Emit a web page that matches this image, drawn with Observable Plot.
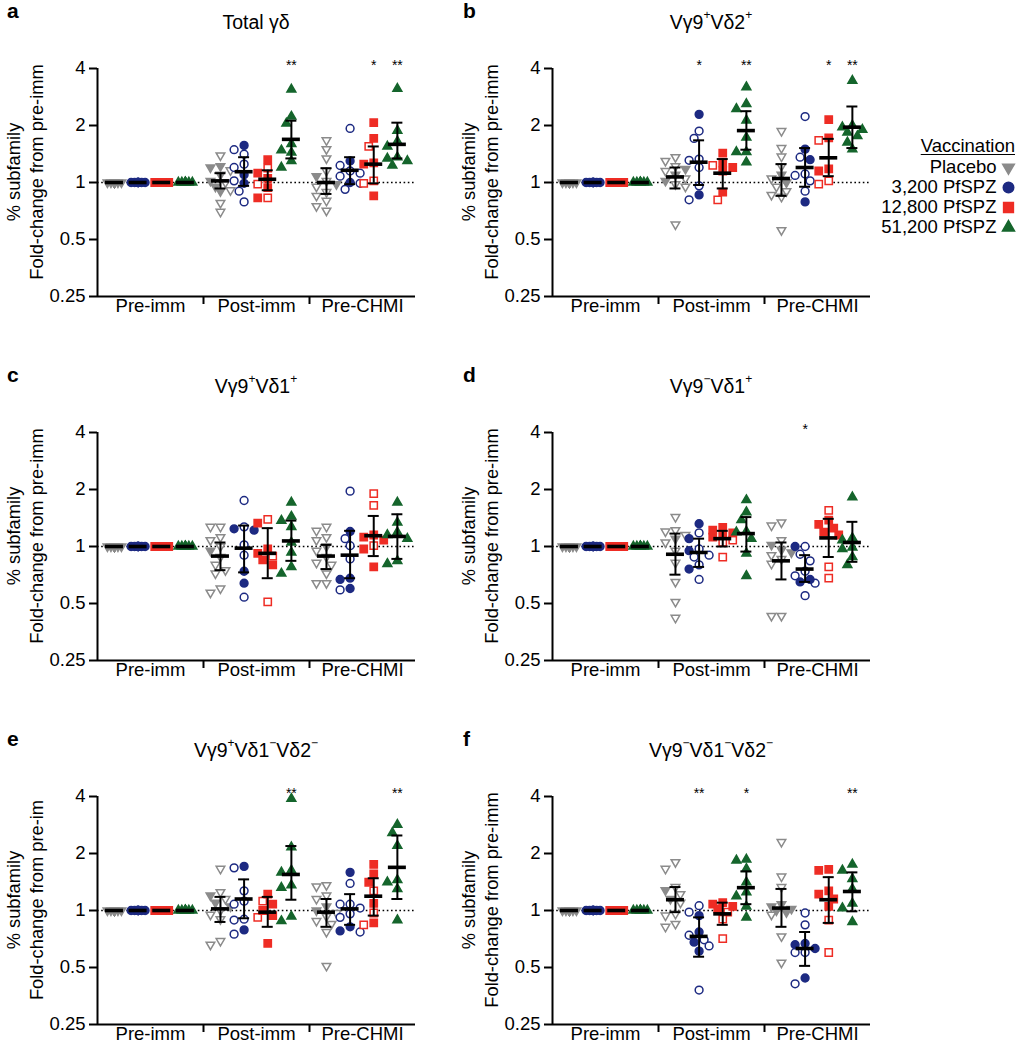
<!DOCTYPE html>
<html>
<head>
<meta charset="utf-8">
<script src="https://cdn.jsdelivr.net/npm/d3@7"></script>
<script src="https://cdn.jsdelivr.net/npm/@observablehq/plot@0.6"></script>
<style>
  body { margin:0; width:1021px; height:1050px; position:relative; background:white; overflow:hidden;
         font-family:"Liberation Sans", Arial, Helvetica, sans-serif; color:black; }
  .abs { position:absolute; }
  .title { font-size:19.5px; transform:translate(-50%,-50%); white-space:nowrap; }
  .title sup { font-size:0.62em; position:relative; top:-0.2em; line-height:0; vertical-align:super; }
  .letter { font-size:21px; font-weight:bold; transform:translate(0,-50%); }
  .ylab { font-size:18.3px; transform:translate(-50%,-50%) rotate(-90deg); white-space:nowrap; }
  .leghead { font-size:18.5px; text-decoration:underline; text-underline-offset:2px; transform:translate(-100%,-50%); white-space:nowrap; }
</style>
</head>
<body>
<script>
// ---------------- categories ----------------
const groups = ["Pre-imm", "Post-imm", "Pre-CHMI"];
const vaccinations = ["Placebo", "3,200 PfSPZ", "12,800 PfSPZ", "51,200 PfSPZ"];
const vaccColors = ["#8b8b8b", "#1d2a82", "#ee2c24", "#15652c"];
const yTicks = [0.25, 0.5, 1, 2, 4];
const panelLetters = ["a", "b", "c", "d", "e", "f"];
const panelTitles = [
  "Total γδ",
  "Vγ9<sup>+</sup>Vδ2<sup>+</sup>",
  "Vγ9<sup>+</sup>Vδ1<sup>+</sup>",
  "Vγ9<sup>−</sup>Vδ1<sup>+</sup>",
  "Vγ9<sup>+</sup>Vδ1<sup>−</sup>Vδ2<sup>−</sup>",
  "Vγ9<sup>−</sup>Vδ1<sup>−</sup>Vδ2<sup>−</sup>"
];
const yLabel1 = "% subfamily";
const yLabel2 = ["Fold-change from pre-imm", "Fold-change from pre-imm", "Fold-change from pre-imm",
                 "Fold-change from pre-imm", "Fold-change from pre-im", "Fold-change from pre-imm"];

// ---------------- data ----------------
// points: [group, vaccination index, open-symbol values, filled-symbol values]
const preImmPoints = [
  ["Pre-imm", 0, [], [1,1,1,1,1,1,1,1,1,1,1,1]],
  ["Pre-imm", 1, [], [1,1,1,1,1,1,1,1,1,1]],
  ["Pre-imm", 2, [], [1,1,1,1,1,1,1,1]],
  ["Pre-imm", 3, [], [1,1,1,1,1,1,1,1]]
];
// stats: [group, vaccination index, centre, lower, upper, significance]
const preImmStats = [
  ["Pre-imm", 0, 1, 1, 1, ""], ["Pre-imm", 1, 1, 1, 1, ""],
  ["Pre-imm", 2, 1, 1, 1, ""], ["Pre-imm", 3, 1, 1, 1, ""]
];

const totalGD = [
  ["Post-imm", 0, [1.39,1.16,1.0,0.91,0.78,0.70], [1.22,1.2,1.1,1.02,0.95,0.9]],
  ["Post-imm", 1, [1.49,1.41,1.25,1.2,1.02,0.9,0.79], [1.57,1.1,0.99]],
  ["Post-imm", 2, [1.19,0.98,0.83], [1.32,1.12,1.05,0.94,0.83]],
  ["Post-imm", 3, [], [3.1,2.23,2.05,1.6,1.48,1.44,1.3,1.2]],
  ["Pre-CHMI", 0, [1.67,1.5,1.34,1.15,1.02,0.95,0.89,0.85,0.8,0.75,0.71], [1.08,0.98]],
  ["Pre-CHMI", 1, [1.93,1.23,1.15,1.12,1.08,0.99,0.92], [1.3,1.0]],
  ["Pre-CHMI", 2, [1.55,1.02,0.99], [2.07,1.71,1.27,1.25,0.85]],
  ["Pre-CHMI", 3, [], [3.13,1.88,1.65,1.55,1.36,1.34,1.3,1.23]]
];
const totalGDStats = [
  ["Post-imm", 0, 1.02, 0.93, 1.12, ""], ["Post-imm", 1, 1.14, 0.96, 1.36, ""],
  ["Post-imm", 2, 1.04, 0.91, 1.16, ""], ["Post-imm", 3, 1.69, 1.34, 2.12, "**"],
  ["Pre-CHMI", 0, 1.0, 0.87, 1.19, ""], ["Pre-CHMI", 1, 1.16, 0.98, 1.36, ""],
  ["Pre-CHMI", 2, 1.25, 0.99, 1.55, "*"], ["Pre-CHMI", 3, 1.59, 1.34, 2.07, "**"]
];

const vg9vd2 = [
  ["Post-imm", 0, [1.36,1.3,1.22,1.15,1.05,0.98,0.95,0.6], [1.18,1.1,1.02]],
  ["Post-imm", 1, [1.87,1.71,1.33,1.31,1.2,0.96,0.81], [2.29,0.86]],
  ["Post-imm", 2, [1.23,0.81], [1.43,1.27,1.2,1.15,0.89]],
  ["Post-imm", 3, [], [3.19,2.6,2.45,2.13,1.73,1.45,1.45,1.28]],
  ["Pre-CHMI", 0, [1.87,1.52,1.37,1.22,1.05,0.95,0.9,0.86,0.84,0.56], [1.1,1.0]],
  ["Pre-CHMI", 1, [2.23,1.36,1.11,1.09,1.02,0.9], [1.5,1.32,0.79]],
  ["Pre-CHMI", 2, [1.67,1.02,0.98], [2.15,1.72,1.18,1.15]],
  ["Pre-CHMI", 3, [], [3.45,2.0,1.96,1.9,1.84,1.76,1.63,1.5]]
];
const vg9vd2Stats = [
  ["Post-imm", 0, 1.07, 0.93, 1.2, ""], ["Post-imm", 1, 1.28, 0.97, 1.67, "*"],
  ["Post-imm", 2, 1.12, 0.93, 1.33, ""], ["Post-imm", 3, 1.88, 1.49, 2.38, "**"],
  ["Pre-CHMI", 0, 1.05, 0.85, 1.25, ""], ["Pre-CHMI", 1, 1.2, 0.95, 1.52, ""],
  ["Pre-CHMI", 2, 1.35, 1.08, 1.7, "*"], ["Pre-CHMI", 3, 1.96, 1.52, 2.52, "**"]
];

const vg9pvd1 = [
  ["Post-imm", 0, [1.27,1.27,1.12,1.08,1.0,0.88,0.8,0.75,0.72,0.6,0.57], [0.95]],
  ["Post-imm", 1, [1.75,1.27,1.02,0.9,0.54], [1.24,1.22,0.74,0.64]],
  ["Post-imm", 2, [1.39,0.89,0.51], [1.33,0.97,0.92,0.85,0.8]],
  ["Post-imm", 3, [], [1.71,1.44,1.37,1.27,1.05,0.93,0.78,0.72]],
  ["Pre-CHMI", 0, [1.27,1.21,1.12,1.08,0.95,0.88,0.82,0.8,0.72,0.64,0.64], [1.0]],
  ["Pre-CHMI", 1, [1.96,1.1,1.01,0.86,0.59], [1.2,0.68,0.67,0.6]],
  ["Pre-CHMI", 2, [1.9,1.65,1.01], [1.15,1.12,1.08,0.97,0.78]],
  ["Pre-CHMI", 3, [], [1.71,1.34,1.19,1.15,1.1,0.84,0.81]]
];
const vg9pvd1Stats = [
  ["Post-imm", 0, 0.89, 0.75, 1.05, ""], ["Post-imm", 1, 0.98, 0.73, 1.29, ""],
  ["Post-imm", 2, 0.92, 0.68, 1.25, ""], ["Post-imm", 3, 1.07, 0.84, 1.37, ""],
  ["Pre-CHMI", 0, 0.89, 0.76, 1.02, ""], ["Pre-CHMI", 1, 0.9, 0.68, 1.21, ""],
  ["Pre-CHMI", 2, 1.14, 0.89, 1.45, ""], ["Pre-CHMI", 3, 1.13, 0.86, 1.48, ""]
];

const vg9nvd1 = [
  ["Post-imm", 0, [1.43,1.22,1.2,1.15,1.05,0.95,0.82,0.65,0.51,0.42], [1.1]],
  ["Post-imm", 1, [1.18,0.97,0.9,0.88,0.8,0.67], [1.32,1.1,0.95,0.76]],
  ["Post-imm", 2, [1.08,1.05,0.88], [1.26,1.22,1.18,1.15,1.12]],
  ["Post-imm", 3, [], [1.76,1.52,1.38,1.2,1.19,1.1,0.92,0.7]],
  ["Pre-CHMI", 0, [1.34,1.29,1.08,0.9,0.86,0.81,0.43,0.43], [1.02,0.96,0.93]],
  ["Pre-CHMI", 1, [1.0,0.91,0.84,0.74,0.7,0.64,0.55], [1.0,0.67,0.65]],
  ["Pre-CHMI", 2, [1.55,0.78,0.68], [1.38,1.31,1.25,1.19,1.15]],
  ["Pre-CHMI", 3, [], [1.82,1.11,1.08,0.99,0.97,0.88,0.8]]
];
const vg9nvd1Stats = [
  ["Post-imm", 0, 0.91, 0.71, 1.17, ""], ["Post-imm", 1, 0.93, 0.78, 1.1, ""],
  ["Post-imm", 2, 1.1, 1.0, 1.21, ""], ["Post-imm", 3, 1.17, 0.94, 1.43, ""],
  ["Pre-CHMI", 0, 0.84, 0.67, 1.05, ""], ["Pre-CHMI", 1, 0.76, 0.65, 0.9, "*"],
  ["Pre-CHMI", 2, 1.11, 0.88, 1.4, ""], ["Pre-CHMI", 3, 1.05, 0.83, 1.35, ""]
];

const vg9pvd1nvd2n = [
  ["Post-imm", 0, [1.66,1.25,1.15,1.0,0.95,0.9,0.69,0.66], [1.2,1.1,1.05]],
  ["Post-imm", 1, [1.68,1.27,1.12,1.08,0.9,0.89,0.75], [1.71,0.79]],
  ["Post-imm", 2, [1.12,0.92], [1.22,1.08,1.0,0.94,0.67]],
  ["Post-imm", 3, [], [3.89,2.16,1.63,1.59,1.36,1.32,0.93,0.88]],
  ["Pre-CHMI", 0, [1.36,1.34,1.2,1.15,0.97,0.93,0.88,0.85,0.77,0.51], [1.05,1.0]],
  ["Pre-CHMI", 1, [1.39,1.08,1.08,1.03,0.96,0.92,0.77], [1.59,0.82,0.78]],
  ["Pre-CHMI", 2, [1.27,0.97,0.84], [1.75,1.56,1.41,1.09,0.86]],
  ["Pre-CHMI", 3, [], [2.84,2.57,2.2,1.45,1.41,1.3,0.89]]
];
const vg9pvd1nvd2nStats = [
  ["Post-imm", 0, 1.02, 0.87, 1.18, ""], ["Post-imm", 1, 1.15, 0.91, 1.46, ""],
  ["Post-imm", 2, 0.98, 0.82, 1.18, ""], ["Post-imm", 3, 1.55, 1.14, 2.19, "**"],
  ["Pre-CHMI", 0, 0.98, 0.82, 1.15, ""], ["Pre-CHMI", 1, 1.02, 0.84, 1.22, ""],
  ["Pre-CHMI", 2, 1.19, 0.94, 1.48, ""], ["Pre-CHMI", 3, 1.69, 1.15, 2.49, "**"]
];

const vg9nvd1nvd2n = [
  ["Post-imm", 0, [1.8,1.66,1.33,1.22,1.1,0.96,0.94,0.85,0.82], [1.28,1.15]],
  ["Post-imm", 1, [1.06,0.98,0.74,0.7,0.65,0.38], [0.94,0.77,0.68,0.61]],
  ["Post-imm", 2, [0.98,0.9,0.71], [1.1,1.08,1.05,1.02]],
  ["Post-imm", 3, [], [1.86,1.84,1.66,1.41,1.25,1.19,1.05,0.92]],
  ["Pre-CHMI", 0, [2.3,1.51,1.33,0.95,0.73,0.53], [1.08,1.05,1.02,1.0,0.98]],
  ["Pre-CHMI", 1, [0.97,0.84,0.6,0.6,0.41], [0.67,0.66,0.63,0.44]],
  ["Pre-CHMI", 2, [0.89,0.6], [1.65,1.63,1.27,1.22,1.15,1.05]],
  ["Pre-CHMI", 3, [], [1.75,1.63,1.47,1.3,1.09,1.03,0.87]]
];
const vg9nvd1nvd2nStats = [
  ["Post-imm", 0, 1.14, 0.98, 1.33, ""], ["Post-imm", 1, 0.73, 0.57, 0.92, "**"],
  ["Post-imm", 2, 0.96, 0.84, 1.1, ""], ["Post-imm", 3, 1.32, 1.08, 1.61, "*"],
  ["Pre-CHMI", 0, 1.03, 0.82, 1.3, ""], ["Pre-CHMI", 1, 0.63, 0.51, 0.77, ""],
  ["Pre-CHMI", 2, 1.14, 0.86, 1.5, ""], ["Pre-CHMI", 3, 1.26, 0.99, 1.59, "**"]
];

const panelPoints = [totalGD, vg9vd2, vg9pvd1, vg9nvd1, vg9pvd1nvd2n, vg9nvd1nvd2n];
const panelStats = [totalGDStats, vg9vd2Stats, vg9pvd1Stats, vg9nvd1Stats, vg9pvd1nvd2nStats, vg9nvd1nvd2nStats];

// ---------------- layout ----------------
const W = 430, H = 290, ML = 97, MR = 15, MT = 28, MB = 34;
const frameW = W - ML - MR, frameH = H - MT - MB;
const pxPerUnit = frameW / groups.length;
const pxPerDouble = frameH / Math.log2(yTicks[yTicks.length - 1] / yTicks[0]);
const colStart = 0.16, colStep = 0.223;
const barHalf = 9 / pxPerUnit, capHalf = 5.5 / pxPerUnit;
const fontStack = '"Liberation Sans", Arial, Helvetica, sans-serif';
const FS = 18.5;

const triangleDown = {
  draw(context, size) {
    const s3 = Math.sqrt(3);
    const y = -Math.sqrt(size / (s3 * 3));
    context.moveTo(0, -y * 2);
    context.lineTo(-s3 * y, y);
    context.lineTo(s3 * y, y);
    context.closePath();
  }
};
const vaccSymbols = [triangleDown, "circle", "square", "triangle"];
const symbolR = [3.2, 3.9, 4.1, 3.3];

function centerOf(group, k) { return groups.indexOf(group) + colStart + k * colStep; }

// simple column-scatter placement (pixel offsets)
function swarm(vals, step, maxSteps) {
  const D = 8.4;
  const placed = [];
  const out = new Array(vals.length);
  const order = vals.map((d, i) => i).sort((a, b) => vals[b] - vals[a]);
  for (const i of order) {
    const py = Math.log2(vals[i]) * pxPerDouble;
    const cands = [0];
    for (let s = 1; s <= maxSteps; s++) cands.push(-s * step, s * step);
    let best = 0, bestD = -1;
    for (const c of cands) {
      let md = Infinity;
      for (const p of placed) md = Math.min(md, Math.hypot(p.x - c, p.y - py));
      if (md >= D) { best = c; break; }
      if (md > bestD) { bestD = md; best = c; }
    }
    placed.push({x: best, y: py});
    out[i] = best;
  }
  return out;
}

function pointRows(entries) {
  const rows = [];
  for (const [group, k, open, filled] of entries) {
    const vals = [...open, ...filled];
    const isPre = group === groups[0];
    const offs = swarm(vals, isPre ? 3.5 : 5, 2);
    const c = centerOf(group, k);
    vals.forEach((v, i) => rows.push({group, k, v, open: i < open.length, x: c + offs[i] / pxPerUnit}));
  }
  return rows;
}
function statRows(entries) {
  return entries.map(([group, k, mean, lo, hi, stars]) => ({group, k, mean, lo, hi, stars, c: centerOf(group, k)}));
}

const panelPos = [[0, 40], [455, 40], [0, 404], [455, 404], [0, 768], [455, 768]];

panelPoints.forEach((entries, p) => {
  const rows = pointRows([...preImmPoints, ...entries]);
  const stats = statRows([...preImmStats, ...panelStats[p]]);
  const [left, top] = panelPos[p];

  const chart = Plot.plot({
    width: W, height: H, marginLeft: ML, marginRight: MR, marginTop: MT, marginBottom: MB,
    x: {domain: [0, groups.length], label: null},
    y: {type: "log", domain: [yTicks[0], yTicks[yTicks.length - 1]], label: null},
    color: {type: "identity"},
    style: {fontFamily: fontStack, fontSize: FS + "px", color: "black", background: "transparent", overflow: "visible"},
    marks: [
      Plot.ruleY([1], {strokeDasharray: "1.6,2.6", strokeWidth: 1.6, stroke: "black"}),
      ...vaccinations.map((name, k) => Plot.dot(rows.filter(d => d.k === k), {
        x: "x", y: "v", r: symbolR[k], symbol: vaccSymbols[k],
        fill: d => d.open ? "white" : vaccColors[k], stroke: vaccColors[k], strokeWidth: 1.5
      })),
      Plot.ruleX(stats, {x: "c", y1: "lo", y2: "hi", strokeWidth: 2, stroke: "black"}),
      Plot.ruleY(stats, {y: "hi", x1: d => d.c - capHalf, x2: d => d.c + capHalf, strokeWidth: 2, stroke: "black"}),
      Plot.ruleY(stats, {y: "lo", x1: d => d.c - capHalf, x2: d => d.c + capHalf, strokeWidth: 2, stroke: "black"}),
      Plot.ruleY(stats, {y: "mean", x1: d => d.c - barHalf, x2: d => d.c + barHalf, strokeWidth: 3.6, stroke: "black"}),
      Plot.text(stats.filter(d => d.stars), {x: "c", y: () => yTicks[yTicks.length - 1], text: "stars",
        dy: -3, fontSize: 14, lineAnchor: "middle"}),
      Plot.ruleX([0], {strokeWidth: 2, stroke: "black"}),
      Plot.ruleY([yTicks[0]], {strokeWidth: 2, stroke: "black"}),
      Plot.axisY({ticks: yTicks, tickFormat: d => String(d), tickSize: 8, tickPadding: 4,
        strokeWidth: 2, fontSize: FS, label: null}),
      Plot.axisX({ticks: [1, 2], tickFormat: () => "", tickSize: 8, strokeWidth: 2, label: null}),
      Plot.text(groups, {x: (d, i) => i + 0.5, text: d => d, frameAnchor: "bottom", lineAnchor: "top",
        dy: 2, fontSize: FS})
    ]
  });
  chart.style.position = "absolute";
  chart.style.left = left + "px";
  chart.style.top = top + "px";
  document.body.appendChild(chart);

  const col = p % 2;
  const title = document.createElement("div");
  title.className = "abs title";
  title.innerHTML = panelTitles[p];
  title.style.left = (left + ML + frameW / 2) + "px";
  title.style.top = (top - 18) + "px";
  document.body.appendChild(title);

  const letter = document.createElement("div");
  letter.className = "abs letter";
  letter.textContent = panelLetters[p];
  letter.style.left = (col === 0 ? 7 : 463) + "px";
  letter.style.top = (top - 29) + "px";
  document.body.appendChild(letter);

  [[yLabel1, 14], [yLabel2[p], 37]].forEach(([txt, dx]) => {
    const lab = document.createElement("div");
    lab.className = "abs ylab";
    lab.textContent = txt;
    lab.style.left = (left + dx) + "px";
    lab.style.top = (top + 132) + "px";
    document.body.appendChild(lab);
  });
});

// ---------------- legend ----------------
const head = document.createElement("div");
head.className = "abs leghead";
head.textContent = "Vaccination";
head.style.left = "1015px";
head.style.top = "146px";
document.body.appendChild(head);

const LW = 150;
const legend = Plot.plot({
  width: LW, height: 84, marginLeft: 0, marginRight: 7, marginTop: 0, marginBottom: 0,
  y: {type: "point", domain: vaccinations, range: [12, 72], padding: 0, axis: null},
  style: {fontFamily: fontStack, fontSize: FS + "px", color: "black", background: "transparent", overflow: "visible"},
  marks: [
    ...vaccinations.map((name, k) => Plot.dot([name], {y: d => d, frameAnchor: "right", r: symbolR[k] * 1.35,
      symbol: vaccSymbols[k], fill: vaccColors[k], stroke: vaccColors[k]})),
    Plot.text(vaccinations, {y: d => d, text: d => d, frameAnchor: "right", dx: -12, textAnchor: "end", fontSize: FS})
  ]
});
legend.style.position = "absolute";
legend.style.left = (1015 - LW) + "px";
legend.style.top = "155px";
document.body.appendChild(legend);
</script>
</body>
</html>
